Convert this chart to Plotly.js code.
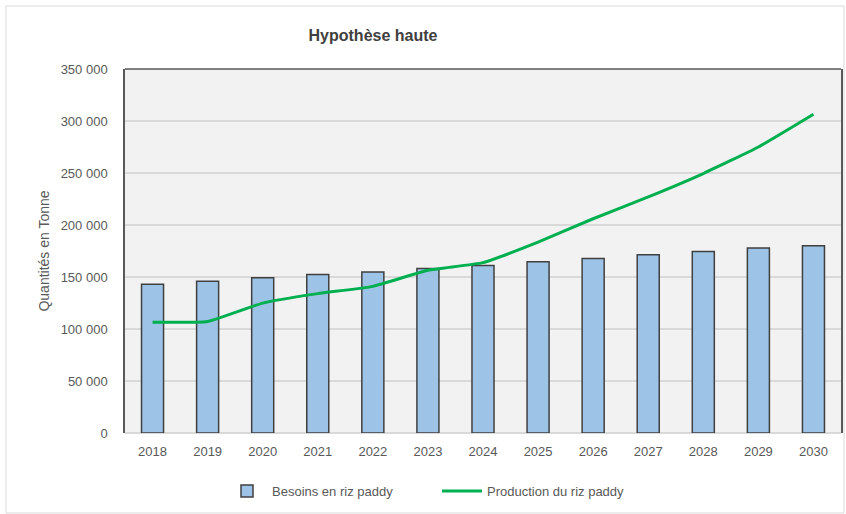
<!DOCTYPE html>
<html><head><meta charset="utf-8">
<script src="https://cdn.plot.ly/plotly-3.0.1.min.js"></script>
<style>html,body{margin:0;padding:0;background:#fff}#chart{width:846px;height:514px}</style>
</head><body><div id="chart"></div>
<script>
const years = ['2018','2019','2020','2021','2022','2023','2024','2025','2026','2027','2028','2029','2030'];
const besoins = [143000,146000,149300,152500,154700,158200,161100,164600,167800,171300,174500,178000,180000];
const production = [106500,107300,124900,134000,141000,156400,163800,183600,206000,227000,249500,275000,306500];
const yTickVals = [0,50000,100000,150000,200000,250000,300000,350000];
const yTickText = ['0','50 000','100 000','150 000','200 000','250 000','300 000','350 000'];

const FONT = '"Liberation Sans Narrow", "Arial Narrow", "Liberation Sans", Arial, sans-serif';
const traces = [
  {type:'bar', x:years, y:besoins, name:'Besoins en riz paddy', width:0.4,
   marker:{color:'#9DC3E6', line:{color:'#404040', width:1.5}}},
  {type:'scatter', mode:'lines', x:years, y:production, name:'Production du riz paddy',
   line:{color:'#00B050', width:3, shape:'spline', smoothing:0.4}}
];
const layout = {
  width:846, height:514,
  margin:{l:125, r:5, t:69, b:81},
  paper_bgcolor:'#ffffff', plot_bgcolor:'#f2f2f2',
  font:{family:FONT, size:13, color:'#595959'},
  title:{text:'<b>Hypothèse haute</b>', x:373/846, xanchor:'center', y:1-35/514, yanchor:'middle',
         font:{family:FONT, size:16, color:'#404040'}},
  xaxis:{type:'category', showgrid:false, showline:false, ticks:'', zeroline:false, ticklabelstandoff:9,
         tickfont:{family:FONT, size:13, color:'#595959'}},
  yaxis:{range:[0,350000], tickvals:yTickVals, ticktext:yTickText, showgrid:true, gridcolor:'#d9d9d9', gridwidth:1.5,
         zeroline:true, zerolinecolor:'#d9d9d9', zerolinewidth:1.5,
         showline:true, linecolor:'#595959', linewidth:1.5, mirror:true, ticks:'', ticklen:0, ticklabelstandoff:13,
         tickfont:{family:FONT, size:13, color:'#595959'},
         title:{text:'Quantités en Tonne', standoff:8, font:{family:FONT, size:14, color:'#595959'}}},
  showlegend:true,
  legend:{orientation:'h', xref:'container', x:437/846, xanchor:'center', yref:'container', y:23/514, yanchor:'middle',
          font:{family:FONT, size:13, color:'#595959'}, bgcolor:'rgba(0,0,0,0)', traceorder:'normal', itemwidth:40,
          entrywidth:160},
  bargap:0.6,
  shapes:[
    {type:'line', xref:'paper', yref:'paper', x0:0, x1:1, y0:1, y1:1, line:{color:'#595959', width:1.5}},
    {type:'rect', xref:'paper', yref:'paper', x0:-119/716, x1:1+3/716, y0:-80/364, y1:1+63/364, line:{color:'#d9d9d9', width:1}, layer:'below'}
  ]
};
Plotly.newPlot('chart', traces, layout, {displayModeBar:false});
</script></body></html>
